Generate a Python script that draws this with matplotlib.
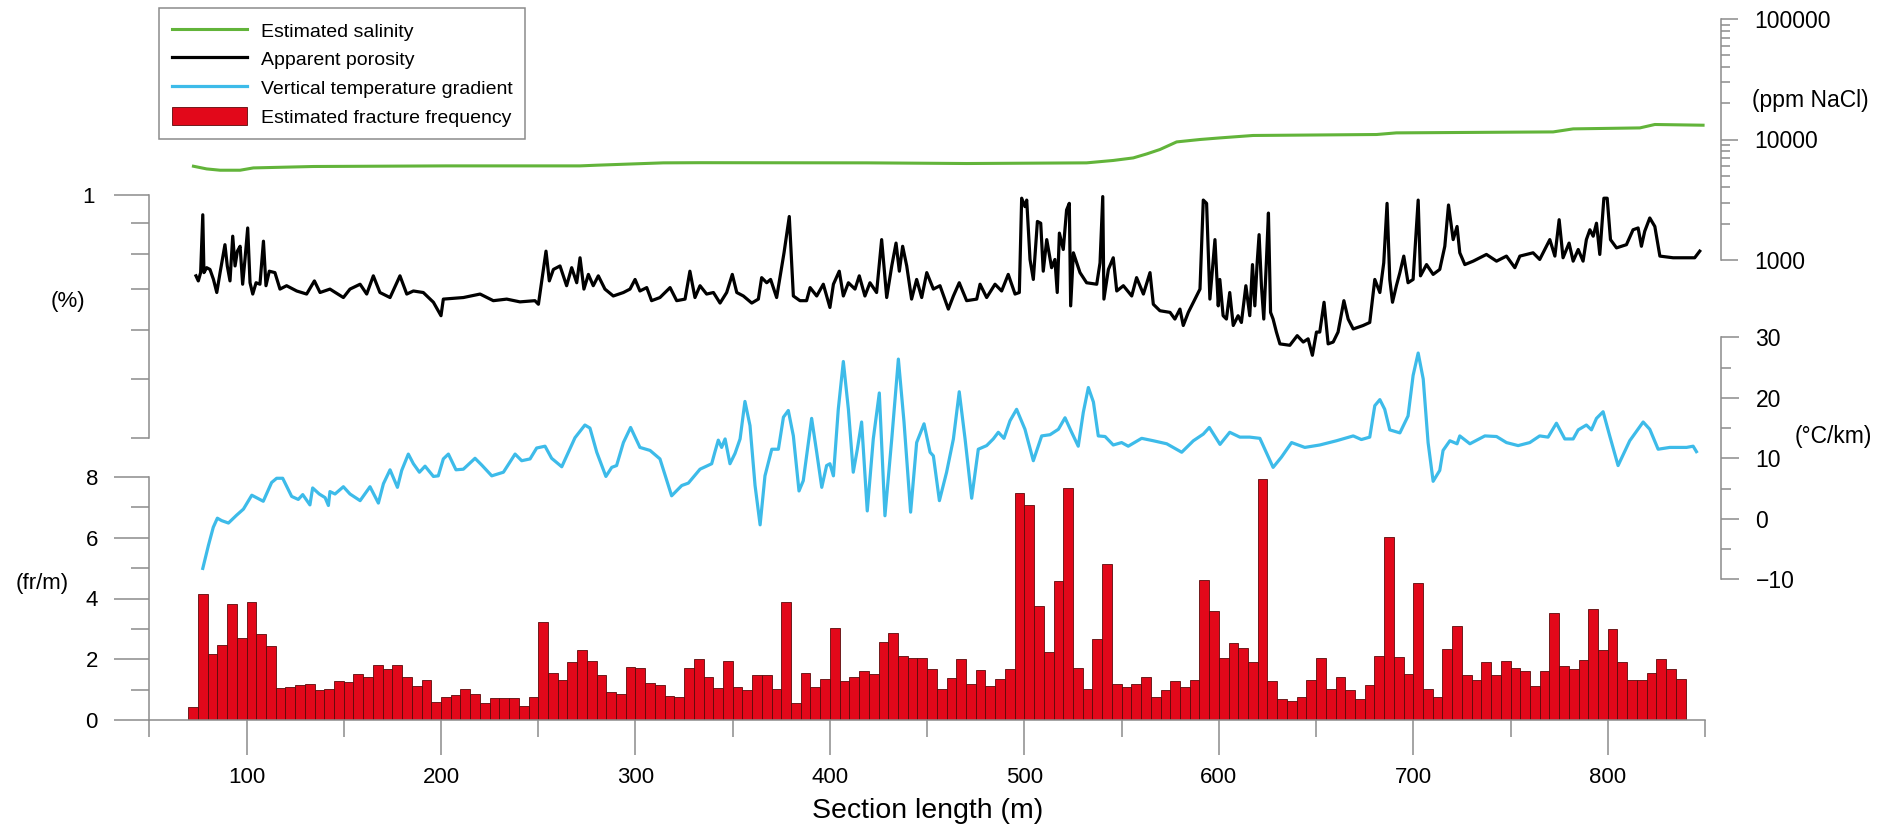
import numpy as np
import matplotlib
matplotlib.use("Agg")
import matplotlib.pyplot as plt
from matplotlib.ticker import FixedLocator, NullFormatter, FuncFormatter

plt.rcParams['font.family'] = ['Liberation Sans', 'DejaVu Sans']

# fracture frequency (fr/m), 5 m bins starting at 70 m
bin_start = np.arange(70, 840, 5)
fracture_freq = [
    0.44, 4.15, 2.16, 2.47, 3.82, 2.71, 3.87, 2.84, 2.45, 1.05,
    1.08, 1.14, 1.18, 0.99, 1.03, 1.30, 1.24, 1.52, 1.41, 1.81,
    1.69, 1.81, 1.41, 1.13, 1.32, 0.60, 0.77, 0.81, 1.02, 0.85,
    0.57, 0.74, 0.73, 0.74, 0.46, 0.77, 3.23, 1.56, 1.33, 1.90,
    2.29, 1.95, 1.48, 0.93, 0.85, 1.76, 1.70, 1.23, 1.15, 0.80,
    0.75, 1.72, 2.00, 1.41, 1.05, 1.95, 1.10, 0.99, 1.48, 1.48,
    1.02, 3.89, 0.57, 1.56, 1.08, 1.35, 3.04, 1.30, 1.43, 1.62,
    1.52, 2.58, 2.86, 2.11, 2.03, 2.05, 1.69, 1.02, 1.37, 2.01,
    1.18, 1.66, 1.12, 1.35, 1.69, 7.47, 7.09, 3.74, 2.25, 4.56,
    7.64, 1.70, 1.02, 2.68, 5.13, 1.19, 1.07, 1.19, 1.43, 0.77,
    0.99, 1.30, 1.08, 1.32, 4.62, 3.59, 2.04, 2.52, 2.36, 1.90,
    7.95, 1.30, 0.70, 0.64, 0.77, 1.33, 2.04, 1.02, 1.43, 0.99,
    0.70, 1.15, 2.11, 6.02, 2.07, 1.53, 4.51, 1.02, 0.75, 2.34,
    3.08, 1.47, 1.32, 1.90, 1.47, 1.95, 1.71, 1.60, 1.13, 1.60,
    3.53, 1.78, 1.67, 1.96, 3.66, 2.30, 3.00, 1.90, 1.32, 1.33,
    1.54, 2.01, 1.69, 1.36,
]

# estimated salinity (ppm NaCl)
sal_x = [72.7, 79.5, 86.4, 96.7, 103.5, 134.4, 202.9, 271.5, 280.1, 314.3,
         333.2, 418.9, 470.3, 532.0, 545.7, 556.0, 562.9, 569.7, 578.3, 590.3,
         600.6, 617.6, 681.1, 691.3, 771.9, 782.2, 816.5, 824.2, 849.0]
sal_y = [6000, 5700, 5560, 5560, 5810, 5970, 6040, 6040, 6120, 6400,
         6420, 6400, 6320, 6400, 6700, 7035, 7590, 8260, 9550, 10000,
         10310, 10800, 11000, 11350, 11560, 12250, 12480, 13320, 13140]

# apparent porosity (%)
por_x = [74.0, 75.2, 76.4, 77.5, 78.1, 79.5, 81.2, 83.0, 84.7, 86.4,
         88.9, 90.1, 91.5, 92.9, 94.1, 95.3, 96.7, 98.0, 99.2, 100.6,
         101.8, 103.2, 104.9, 106.9, 108.7, 110.0, 111.7, 114.6, 117.2, 120.6,
         125.8, 130.9, 134.9, 137.8, 142.9, 149.8, 153.2, 158.4, 161.8, 165.2,
         168.6, 173.8, 178.9, 182.4, 185.8, 190.9, 196.1, 200.0, 201.2, 211.5,
         220.1, 226.9, 233.8, 240.6, 248.3, 250.1, 251.8, 254.0, 255.7, 257.8,
         261.2, 264.6, 267.2, 269.8, 271.5, 273.5, 275.8, 278.3, 280.9, 284.3,
         288.6, 293.8, 297.2, 299.8, 302.3, 305.8, 308.3, 312.6, 317.8, 321.2,
         325.5, 328.0, 330.6, 333.2, 336.6, 340.1, 343.5, 346.9, 349.8, 352.1,
         355.5, 359.8, 363.2, 364.9, 367.5, 369.5, 372.6, 376.4, 379.1, 381.2,
         384.6, 388.0, 389.8, 393.2, 396.6, 400.0, 401.8, 404.8, 406.9, 409.5,
         412.9, 415.1, 418.0, 420.6, 424.0, 426.6, 429.2, 431.8, 434.0, 435.7,
         437.4, 439.5, 442.0, 444.6, 447.2, 449.8, 453.2, 456.6, 460.9, 463.5,
         466.5, 470.3, 475.5, 477.2, 480.6, 484.9, 488.3, 491.7, 495.2, 497.4,
         498.6, 500.3, 501.2, 502.9, 504.6, 506.7, 508.4, 509.7, 511.5, 514.0,
         515.7, 516.9, 518.0, 520.0, 521.7, 523.1, 523.8, 525.2, 528.6, 532.0,
         537.2, 538.9, 540.3, 540.9, 543.2, 545.7, 547.5, 550.9, 555.2, 557.7,
         561.2, 564.6, 566.3, 569.7, 574.9, 577.4, 580.0, 581.7, 584.3, 586.9,
         590.3, 592.0, 593.7, 595.4, 598.0, 599.7, 600.5, 602.2, 603.9, 605.6,
         607.4, 609.9, 611.6, 613.9, 615.9, 617.3, 618.5, 619.7, 620.7, 621.9,
         623.1, 624.5, 625.5, 626.6, 627.9, 629.6, 631.4, 636.5, 640.3, 643.4,
         645.9, 648.1, 650.2, 651.9, 654.1, 656.2, 658.8, 661.3, 664.3, 666.5,
         669.1, 674.2, 677.6, 680.2, 682.8, 684.8, 686.5, 687.9, 689.3, 691.3,
         693.1, 695.1, 697.3, 699.9, 702.5, 703.7, 706.8, 710.2, 713.6, 716.2,
         718.1, 720.5, 722.5, 723.9, 726.5, 730.8, 737.6, 742.8, 747.9, 752.2,
         754.8, 761.6, 765.0, 770.2, 772.8, 775.0, 777.0, 780.1, 782.2, 784.8,
         787.3, 789.0, 790.8, 792.5, 794.2, 795.9, 798.0, 799.7, 801.4, 804.5,
         809.6, 813.0, 815.6, 817.3, 819.0, 821.6, 824.2, 826.8, 833.6, 840.5,
         844.7, 847.3]
por_y = [0.737, 0.723, 0.746, 0.928, 0.746, 0.760, 0.755, 0.727, 0.692, 0.746,
         0.829, 0.765, 0.723, 0.856, 0.765, 0.809, 0.824, 0.714, 0.784, 0.883,
         0.718, 0.688, 0.718, 0.714, 0.840, 0.710, 0.750, 0.746, 0.701, 0.710,
         0.696, 0.688, 0.723, 0.692, 0.701, 0.679, 0.701, 0.714, 0.688, 0.737,
         0.692, 0.679, 0.737, 0.688, 0.696, 0.692, 0.667, 0.634, 0.675, 0.679,
         0.688, 0.671, 0.675, 0.668, 0.671, 0.662, 0.723, 0.809, 0.723, 0.755,
         0.765, 0.710, 0.760, 0.718, 0.789, 0.701, 0.741, 0.710, 0.737, 0.701,
         0.683, 0.692, 0.701, 0.727, 0.696, 0.705, 0.671, 0.679, 0.705, 0.671,
         0.675, 0.750, 0.679, 0.710, 0.688, 0.692, 0.665, 0.692, 0.741, 0.692,
         0.683, 0.665, 0.675, 0.732, 0.718, 0.727, 0.679, 0.804, 0.922, 0.683,
         0.671, 0.671, 0.705, 0.683, 0.714, 0.654, 0.714, 0.750, 0.683, 0.718,
         0.701, 0.737, 0.683, 0.718, 0.692, 0.845, 0.679, 0.765, 0.834, 0.750,
         0.824, 0.765, 0.675, 0.727, 0.679, 0.746, 0.701, 0.710, 0.650, 0.683,
         0.718, 0.671, 0.675, 0.714, 0.679, 0.714, 0.696, 0.741, 0.688, 0.692,
         0.988, 0.957, 0.981, 0.784, 0.727, 0.905, 0.899, 0.750, 0.845, 0.760,
         0.784, 0.692, 0.866, 0.814, 0.945, 0.969, 0.658, 0.804, 0.746, 0.718,
         0.714, 0.774, 0.994, 0.675, 0.755, 0.789, 0.696, 0.710, 0.683, 0.732,
         0.688, 0.746, 0.662, 0.646, 0.642, 0.626, 0.650, 0.611, 0.642, 0.667,
         0.701, 0.981, 0.969, 0.675, 0.845, 0.658, 0.727, 0.634, 0.626, 0.692,
         0.611, 0.634, 0.618, 0.710, 0.634, 0.769, 0.658, 0.774, 0.861, 0.710,
         0.626, 0.784, 0.934, 0.642, 0.626, 0.596, 0.570, 0.567, 0.588, 0.574,
         0.581, 0.546, 0.596, 0.596, 0.667, 0.570, 0.574, 0.596, 0.671, 0.626,
         0.603, 0.611, 0.618, 0.727, 0.692, 0.774, 0.969, 0.727, 0.667, 0.710,
         0.746, 0.794, 0.718, 0.727, 0.981, 0.737, 0.769, 0.741, 0.755, 0.824,
         0.963, 0.845, 0.888, 0.804, 0.769, 0.779, 0.799, 0.779, 0.794, 0.760,
         0.794, 0.804, 0.784, 0.845, 0.794, 0.911, 0.789, 0.834, 0.779, 0.814,
         0.779, 0.845, 0.877, 0.856, 0.899, 0.799, 0.988, 0.988, 0.845, 0.819,
         0.829, 0.877, 0.883, 0.824, 0.872, 0.917, 0.888, 0.794, 0.789, 0.789,
         0.789, 0.809]

# vertical temperature gradient (degC/km)
grad_x = [77.5, 80.4, 82.9, 85.0, 87.2, 90.7, 94.9, 98.4, 102.7, 108.6,
          112.9, 115.5, 118.6, 123.2, 126.6, 128.9, 132.6, 134.0, 137.4, 140.4,
          142.1, 142.9, 145.5, 149.8, 153.2, 158.4, 163.5, 167.8, 170.4, 173.8,
          177.6, 179.8, 183.2, 185.8, 188.9, 191.8, 196.1, 198.6, 201.2, 203.8,
          207.7, 211.5, 217.5, 220.9, 226.1, 232.1, 238.1, 241.5, 245.8, 249.2,
          253.5, 256.9, 262.1, 268.9, 274.0, 276.6, 280.1, 284.8, 287.8, 290.3,
          293.8, 297.5, 302.3, 307.5, 312.6, 318.6, 323.8, 327.2, 333.2, 339.2,
          340.9, 342.6, 344.3, 346.1, 348.6, 351.2, 353.8, 356.3, 358.9, 361.5,
          364.1, 366.6, 370.1, 373.5, 376.1, 378.6, 381.2, 384.1, 386.3, 390.6,
          393.2, 395.8, 398.3, 400.0, 401.8, 404.3, 406.9, 409.5, 412.0, 414.1,
          416.3, 419.2, 422.3, 425.4, 428.3, 431.8, 435.2, 438.1, 441.5, 444.6,
          448.4, 451.5, 453.2, 456.3, 460.0, 463.5, 466.5, 469.5, 472.9, 476.3,
          480.6, 484.0, 486.6, 489.5, 492.6, 496.0, 500.3, 504.6, 508.9, 513.2,
          517.5, 520.9, 524.3, 527.7, 530.3, 532.9, 535.5, 538.0, 541.5, 545.7,
          550.0, 553.4, 560.3, 566.3, 573.2, 580.9, 586.9, 592.0, 595.1, 600.6,
          605.6, 610.8, 615.9, 621.1, 627.9, 632.2, 637.4, 644.2, 651.9, 660.5,
          669.1, 673.3, 677.6, 680.2, 682.8, 685.3, 687.9, 693.1, 697.3, 699.9,
          702.5, 705.1, 707.6, 710.2, 713.6, 715.3, 718.8, 722.5, 723.9, 729.1,
          736.8, 742.8, 747.9, 753.9, 759.9, 765.0, 769.3, 773.6, 777.9, 782.2,
          784.8, 789.0, 791.6, 794.2, 797.6, 801.0, 805.3, 811.3, 818.2, 821.6,
          825.9, 831.9, 840.5, 843.9, 845.6]
grad_y = [-8.2, -4.4, -1.4, 0.1, -0.3, -0.7, 0.6, 1.6, 3.9, 2.9,
          6.0, 6.7, 6.7, 3.7, 3.2, 4.0, 2.3, 5.1, 4.1, 3.5,
          2.2, 4.5, 4.1, 5.3, 4.1, 3.0, 5.3, 2.6, 5.8, 8.1,
          5.2, 8.0, 10.7, 9.1, 7.7, 8.7, 7.0, 7.1, 9.9, 10.7,
          8.1, 8.2, 10.0, 8.9, 7.1, 7.7, 10.7, 9.6, 9.9, 11.7,
          12.0, 10.0, 8.6, 13.4, 15.5, 15.0, 11.0, 7.0, 8.5, 8.8,
          12.6, 15.1, 11.8, 11.3, 9.9, 3.8, 5.5, 5.9, 8.2, 9.1,
          11.1, 13.0, 11.8, 13.2, 9.1, 10.8, 13.2, 19.4, 15.4, 5.5,
          -1.0, 7.1, 11.5, 11.5, 16.8, 17.9, 13.7, 4.6, 6.3, 16.6,
          11.0, 5.2, 8.8, 9.1, 7.1, 18.1, 26.0, 18.1, 7.7, 11.5,
          16.0, 1.3, 13.2, 20.8, 0.5, 13.2, 26.4, 16.0, 1.1, 12.6,
          15.7, 11.0, 10.4, 3.0, 7.7, 13.2, 21.0, 13.2, 3.4, 11.5,
          12.1, 13.2, 14.3, 13.3, 16.2, 18.1, 14.8, 9.6, 13.7, 13.9,
          14.8, 16.7, 14.3, 12.0, 17.6, 21.7, 19.3, 13.7, 13.6, 12.2,
          12.6, 12.0, 13.3, 12.9, 12.4, 11.0, 12.9, 14.0, 15.1, 12.3,
          14.3, 13.5, 13.5, 13.3, 8.5, 10.2, 12.6, 11.8, 12.2, 12.9,
          13.7, 13.1, 13.5, 18.7, 19.7, 18.1, 14.7, 14.2, 17.0, 23.7,
          27.4, 23.1, 12.6, 6.2, 8.0, 11.3, 12.9, 12.4, 13.7, 12.4,
          13.7, 13.6, 12.6, 12.1, 12.6, 13.7, 13.5, 15.8, 13.2, 13.2,
          14.7, 15.5, 14.7, 16.6, 17.7, 13.7, 8.8, 12.9, 16.0, 14.8,
          11.5, 11.8, 11.8, 12.0, 11.1]

W, H = 1902, 834
GRAY = '#8c8c8c'
RED = '#e2081a'
GREEN = '#62b43a'
BLUE = '#3dbbe9'


def box(x0, y0, x1, y1):
    # pixel box (from top-left) -> figure fraction rect
    return [x0 / W, 1 - y1 / H, (x1 - x0) / W, (y1 - y0) / H]


fig = plt.figure(figsize=(W / 100, H / 100), dpi=100)

# four panels stacked on one x range, each with its own y scale
ax_bar = fig.add_axes(box(149.3, 477, 1705, 720))
ax_grad = fig.add_axes(box(149.3, 337.3, 1705, 579.3))
ax_por = fig.add_axes(box(149.3, 195, 1705, 437.7))
ax_sal = fig.add_axes(box(149.3, 19, 1705, 260))

for ax in (ax_bar, ax_grad, ax_por, ax_sal):
    ax.set_xlim(50, 850)
    ax.patch.set_visible(False)
    ax.spines['top'].set_visible(False)
    for s in ax.spines.values():
        s.set_color(GRAY)
        s.set_linewidth(1.1)

# fracture frequency bars + the x axis
bars = ax_bar.bar(bin_start, fracture_freq, width=5, align='edge',
                  color=RED, edgecolor='#5c0a0a', linewidth=0.6)
ax_bar.set_ylim(0, 8)
ax_bar.spines['right'].set_visible(False)
ax_bar.yaxis.set_major_locator(FixedLocator([0, 2, 4, 6, 8]))
ax_bar.yaxis.set_minor_locator(FixedLocator([1, 3, 5, 7]))
ax_bar.xaxis.set_major_locator(FixedLocator(range(100, 801, 100)))
ax_bar.xaxis.set_minor_locator(FixedLocator(range(50, 851, 100)))
ax_bar.tick_params(axis='y', which='major', length=25, width=1.1, color=GRAY,
                   labelsize=16, pad=12)
ax_bar.tick_params(axis='y', which='minor', length=13, width=1.1, color=GRAY)
ax_bar.tick_params(axis='x', which='major', length=25, width=1.1, color=GRAY,
                   labelsize=16, pad=9)
ax_bar.tick_params(axis='x', which='minor', length=12, width=1.1, color=GRAY)
ax_bar.set_xlabel('Section length (m)', fontsize=20.5, labelpad=7)

# temperature gradient, right side
line_grad, = ax_grad.plot(grad_x, grad_y, color=BLUE, lw=2.3)
ax_grad.set_ylim(-10, 30)
ax_grad.xaxis.set_visible(False)
ax_grad.spines['left'].set_visible(False)
ax_grad.spines['bottom'].set_visible(False)
ax_grad.spines['right'].set_position(('outward', 11.3))
ax_grad.yaxis.tick_right()
ax_grad.yaxis.set_major_locator(FixedLocator([-10, 0, 10, 20, 30]))
ax_grad.yaxis.set_minor_locator(FixedLocator([-5, 5, 15, 25]))
ax_grad.tick_params(axis='y', which='major', length=13, width=1.1, color=GRAY,
                    labelsize=16.5, pad=12)
ax_grad.tick_params(axis='y', which='minor', length=7, width=1.1, color=GRAY)

# porosity, log scale, left side
line_por, = ax_por.plot(por_x, por_y, color='black', lw=2.3)
ax_por.set_yscale('log')
ax_por.set_ylim(0.4, 1)
ax_por.xaxis.set_visible(False)
ax_por.spines['right'].set_visible(False)
ax_por.spines['bottom'].set_visible(False)
ax_por.yaxis.set_major_locator(FixedLocator([1]))
ax_por.yaxis.set_major_formatter(FuncFormatter(lambda v, p: '1'))
ax_por.yaxis.set_minor_locator(FixedLocator([0.4, 0.5, 0.6, 0.7, 0.8, 0.9]))
ax_por.yaxis.set_minor_formatter(NullFormatter())
ax_por.tick_params(axis='y', which='major', length=25, width=1.1, color=GRAY,
                   labelsize=16, pad=14)
ax_por.tick_params(axis='y', which='minor', length=13, width=1.1, color=GRAY)

# salinity, log scale, right side
line_sal, = ax_sal.plot(sal_x, sal_y, color=GREEN, lw=2.2)
ax_sal.set_yscale('log')
ax_sal.set_ylim(1000, 100000)
ax_sal.xaxis.set_visible(False)
ax_sal.spines['left'].set_visible(False)
ax_sal.spines['bottom'].set_visible(False)
ax_sal.spines['right'].set_position(('outward', 11.3))
ax_sal.yaxis.tick_right()
ax_sal.yaxis.set_major_locator(FixedLocator([1000, 10000, 100000]))
ax_sal.yaxis.set_major_formatter(FuncFormatter(lambda v, p: f'{v:.0f}'))
minor_sal = [k * 1000 for k in range(2, 10)] + [k * 10000 for k in range(2, 10)]
ax_sal.yaxis.set_minor_locator(FixedLocator(minor_sal))
ax_sal.yaxis.set_minor_formatter(NullFormatter())
ax_sal.tick_params(axis='y', which='major', length=12, width=1.1, color=GRAY,
                   labelsize=16.5, pad=12)
ax_sal.tick_params(axis='y', which='minor', length=6.5, width=1.1, color=GRAY)

# unit labels
fig.text(68 / W, 1 - 302 / H, '(%)', fontsize=16, ha='center', va='center')
fig.text(42 / W, 1 - 583 / H, '(fr/m)', fontsize=16, ha='center', va='center')
fig.text(1752 / W, 1 - 100 / H, '(ppm NaCl)', fontsize=16.5, ha='left', va='center')
fig.text(1795 / W, 1 - 437 / H, '(\u00b0C/km)', fontsize=16.5, ha='left', va='center')

leg = fig.legend([line_sal, line_por, line_grad, bars],
                 ['Estimated salinity', 'Apparent porosity',
                  'Vertical temperature gradient', 'Estimated fracture frequency'],
                 loc='upper left', bbox_to_anchor=(159 / W, 1 - 8 / H),
                 bbox_transform=fig.transFigure, fontsize=14, frameon=True,
                 fancybox=False, framealpha=1, edgecolor=GRAY, borderpad=0.65,
                 borderaxespad=0, handlelength=3.9, handleheight=1.1,
                 handletextpad=0.7, labelspacing=0.45)
leg.get_frame().set_linewidth(1.1)
leg.set_zorder(10)

fig.savefig('out.png', dpi=100)
plt.close(fig)
